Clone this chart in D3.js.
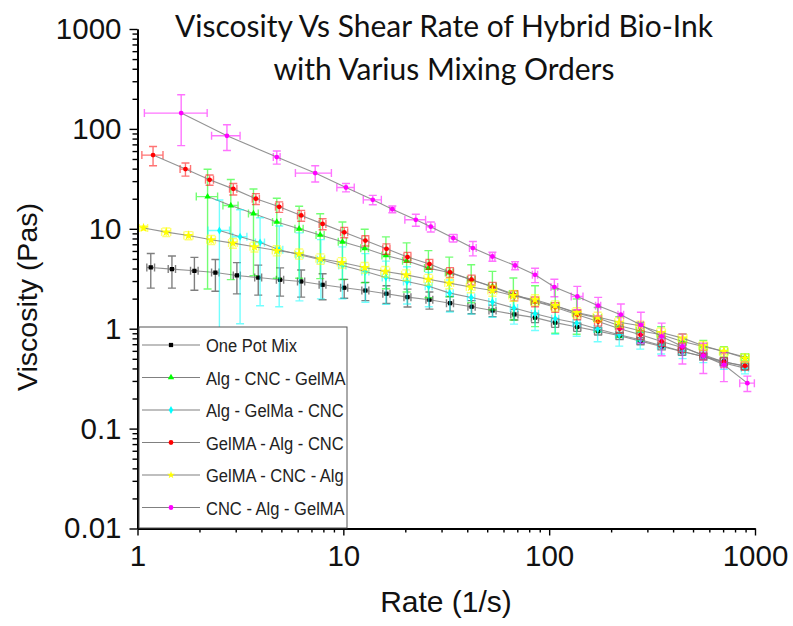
<!DOCTYPE html>
<html>
<head>
<meta charset="utf-8">
<script src="https://cdn.jsdelivr.net/npm/d3@7"></script>
<style>
  body { margin: 0; background: #fff; }
</style>
</head>
<body>
<div id="chart"></div>
<script>
// ---- data ----
var seriesNames = ["One Pot Mix", "Alg - CNC - GelMA", "Alg - GelMa - CNC",
                   "GelMA - Alg - CNC", "GelMA - CNC - Alg", "CNC - Alg - GelMA"];
var seriesColors = ["#000000", "#00ff00", "#00ffff", "#ff0000", "#ffff00", "#ff00ff"];

var onePotX = [1.16, 1.47, 1.89, 2.39, 3.04, 3.86, 4.93, 6.24, 7.93, 10.1, 12.8, 16.2, 20.5, 26.2, 33.0, 42.0, 53.1, 67.8, 85.4, 107, 137, 173, 220, 278, 352, 442, 561, 706, 894];
var onePotY = [4.10, 3.95, 3.80, 3.65, 3.41, 3.25, 3.09, 2.97, 2.75, 2.57, 2.41, 2.24, 2.07, 1.95, 1.80, 1.66, 1.52, 1.39, 1.29, 1.15, 1.04, 0.946, 0.849, 0.751, 0.664, 0.592, 0.527, 0.470, 0.418];
var onePotYErr = [1.55, 1.4, 1.37, 1.28, 1.18, 1.08, 0.97, 0.9, 0.8, 0.55, 0.5, 0.45, 0.42, 0.38, 0.3, 0.25, 0.2, 0.17, 0.14, 0.12, 0.1, 0.08, 0.07, 0.06, 0.05, 0.05, 0.04, 0.04, 0.03];
var onePotXErr = [0.05, 0.06, 0.08, 0.1, 0.12, 0.15, 0.2, 0.25, 0.3, 0.4, 0.5, 0.65, 0.8, 1.0, 1.3, 1.7, 2.1, 2.7, 3.4, 4.3, 5.5, 6.9, 8.8, 11, 14, 18, 22, 28, 36];

var algCncX = [2.19, 2.84, 3.66, 4.75, 6.10, 7.72, 9.90, 12.7, 16.1, 20.3, 25.9, 32.7, 41.8, 53.0, 67.0, 85.4, 107, 136, 172, 219, 277, 350, 445, 561, 706, 894];
var algCncY = [21.0, 17.1, 14.2, 11.7, 10.0, 8.67, 7.41, 6.38, 5.41, 4.78, 4.04, 3.65, 3.09, 2.65, 2.22, 1.87, 1.70, 1.43, 1.28, 1.07, 0.953, 0.869, 0.745, 0.664, 0.592, 0.520];
var algCncYErr = [18.5, 14, 10.8, 8.5, 6.8, 5.5, 4.3, 3.5, 2.9, 2.45, 2.0, 1.56, 1.27, 1.1, 1.0, 0.82, 0.8, 0.55, 0.35, 0.25, 0.2, 0.18, 0.14, 0.1, 0.07, 0.04];
var algCncXErr = [0.26, 0.24, 0.2, 0.22, 0.28, 0.35, 0.45, 0.55, 0.7, 0.9, 1.1, 1.4, 1.8, 2.3, 2.9, 3.7, 4.6, 5.8, 7.4, 9.4, 12, 15, 19, 24, 30, 38];

var algGelX = [2.50, 3.15, 3.94, 4.88, 6.12, 7.78, 9.90, 12.8, 16.1, 20.4, 26.0, 32.9, 41.8, 53.0, 67.5, 85.4, 107, 136, 172, 219, 277, 350, 445, 561, 706, 894];
var algGelY = [9.62, 8.32, 7.30, 6.16, 5.50, 4.89, 4.29, 3.74, 3.25, 2.97, 2.66, 2.27, 2.05, 1.85, 1.61, 1.41, 1.26, 1.14, 0.991, 0.869, 0.774, 0.679, 0.592, 0.527, 0.453, 0.403];
var algGelYErr = [9.8, 7.2, 5.6, 4.5, 3.6, 2.9, 2.3, 1.9, 1.5, 1.2, 1.0, 0.8, 0.65, 0.55, 0.5, 0.45, 0.38, 0.3, 0.25, 0.2, 0.15, 0.12, 0.09, 0.07, 0.06, 0.05];
var algGelXErr = [0.3, 0.25, 0.2, 0.2, 0.25, 0.3, 0.4, 0.5, 0.65, 0.8, 1.0, 1.3, 1.7, 2.1, 2.7, 3.4, 4.3, 5.4, 6.9, 8.8, 11, 14, 18, 22, 28, 36];

var gelAlgX = [1.19, 1.71, 2.24, 2.92, 3.76, 4.88, 6.24, 7.93, 10.1, 12.8, 16.2, 20.5, 26.2, 33.0, 42.0, 53.1, 67.8, 85.4, 107, 137, 173, 220, 278, 352, 442, 561, 706, 894];
var gelAlgY = [54.7, 39.6, 30.9, 25.1, 20.0, 16.6, 13.6, 11.2, 9.23, 7.62, 6.31, 5.21, 4.44, 3.67, 3.09, 2.61, 2.15, 1.87, 1.64, 1.38, 1.18, 1.00, 0.869, 0.745, 0.648, 0.548, 0.463, 0.425];
var gelAlgYErr = [12, 5.9, 3.6, 3.3, 2.5, 2.0, 1.7, 1.4, 1.1, 0.9, 0.75, 0.6, 0.5, 0.42, 0.35, 0.3, 0.25, 0.21, 0.18, 0.15, 0.12, 0.1, 0.09, 0.08, 0.07, 0.06, 0.05, 0.04];
var gelAlgXErr = [0.14, 0.1, 0.1, 0.12, 0.15, 0.2, 0.25, 0.3, 0.4, 0.5, 0.65, 0.8, 1.0, 1.3, 1.7, 2.1, 2.7, 3.4, 4.3, 5.5, 6.9, 8.8, 11, 14, 18, 22, 28, 36];

var gelCncX = [1.07, 1.38, 1.77, 2.28, 2.91, 3.70, 4.75, 6.10, 7.74, 9.83, 12.7, 16.0, 20.2, 25.9, 32.7, 41.6, 53.0, 67.0, 85.4, 107, 136, 172, 219, 277, 350, 445, 561, 706, 894];
var gelCncY = [10.2, 9.27, 8.57, 7.76, 7.19, 6.60, 6.06, 5.62, 5.01, 4.60, 4.10, 3.74, 3.46, 3.12, 2.86, 2.61, 2.41, 2.15, 1.95, 1.70, 1.45, 1.31, 1.16, 1.07, 0.916, 0.805, 0.675, 0.592, 0.508];
var gelCncYErr = [0.5, 0.9, 0.8, 0.8, 0.8, 0.75, 0.7, 0.65, 0.6, 0.55, 0.5, 0.45, 0.42, 0.38, 0.35, 0.32, 0.3, 0.27, 0.24, 0.2, 0.17, 0.15, 0.13, 0.12, 0.1, 0.08, 0.07, 0.06, 0.05];
var gelCncXErr = [0.05, 0.07, 0.09, 0.11, 0.14, 0.18, 0.23, 0.3, 0.38, 0.48, 0.6, 0.8, 1.0, 1.25, 1.6, 2.0, 2.6, 3.3, 4.2, 5.2, 6.7, 8.4, 10.7, 13.5, 17, 22, 27, 34, 44];

var cncAlgX = [1.63, 2.72, 4.75, 7.30, 10.3, 13.9, 17.3, 22.5, 26.6, 34.2, 42.6, 53.0, 68.3, 85.4, 106, 137, 173, 223, 279, 352, 444, 561, 706, 918];
var cncAlgY = [144, 85.3, 52.2, 36.1, 25.9, 19.5, 15.7, 12.3, 10.5, 8.07, 6.41, 5.28, 4.29, 3.46, 2.61, 2.10, 1.70, 1.38, 1.09, 0.836, 0.664, 0.536, 0.435, 0.285];
var cncAlgYErr = [76, 24.6, 7.8, 6.7, 2.5, 2.1, 1.2, 1.7, 1.2, 0.7, 1.05, 0.55, 0.4, 0.57, 0.52, 0.55, 0.36, 0.39, 0.37, 0.3, 0.22, 0.18, 0.14, 0.05];
var cncAlgXErr = [0.55, 0.43, 0.18, 1.45, 1.0, 1.4, 0.5, 2.6, 1.3, 1.5, 1.6, 1.5, 2.0, 2.5, 4, 9, 5, 7, 8, 10, 13, 16, 20, 75];

var xTicks = [1, 10, 100, 1000];
var yTicks = [0.01, 0.1, 1, 10, 100, 1000];

// ---- build series ----
var symbols = [d3.symbolSquare, d3.symbolTriangle, d3.symbolDiamond, d3.symbolCircle, d3.symbolStar, d3.symbolCircle];
var raw = [
  [onePotX, onePotY, onePotXErr, onePotYErr],
  [algCncX, algCncY, algCncXErr, algCncYErr],
  [algGelX, algGelY, algGelXErr, algGelYErr],
  [gelAlgX, gelAlgY, gelAlgXErr, gelAlgYErr],
  [gelCncX, gelCncY, gelCncXErr, gelCncYErr],
  [cncAlgX, cncAlgY, cncAlgXErr, cncAlgYErr]
];
var series = raw.map(function (r, i) {
  return {
    name: seriesNames[i],
    color: seriesColors[i],
    symbol: symbols[i],
    points: r[0].map(function (xv, j) {
      return { x: xv, y: r[1][j], xe: r[2][j], ye: r[3][j] };
    })
  };
});

// ---- chart ----
var width = 793, height = 626;
var svg = d3.select("#chart").append("svg")
  .attr("width", width)
  .attr("height", height)
  .style("font-family", "'Liberation Sans', Arial, sans-serif");

var x = d3.scaleLog().domain([1, 1000]).range([137.5, 755]);
var y = d3.scaleLog().domain([0.01, 1000]).range([528.5, 29]);

svg.append("clipPath").attr("id", "plotclip")
  .append("rect")
  .attr("x", x.range()[0]).attr("y", y.range()[1])
  .attr("width", x.range()[1] - x.range()[0] + 10)
  .attr("height", y.range()[0] - y.range()[1]);

var plot = svg.append("g").attr("clip-path", "url(#plotclip)");
var cap = 4;

series.forEach(function (s) {
  var g = plot.append("g");
  var eb = g.append("g")
    .attr("stroke", s.color)
    .attr("stroke-opacity", s.color === "#000000" ? 0.5 : 0.55)
    .attr("stroke-width", 1.4)
    .attr("fill", "none");

  s.points.forEach(function (p) {
    var cx = x(p.x), cy = y(p.y);
    var yTop = y(p.y + p.ye);
    var yBot = y(Math.max(p.y - p.ye, 1e-4));
    var xL = x(Math.max(p.x - p.xe, 0.01)), xR = x(p.x + p.xe);
    var path = d3.path();
    path.moveTo(cx, yTop); path.lineTo(cx, yBot);
    path.moveTo(cx - cap, yTop); path.lineTo(cx + cap, yTop);
    path.moveTo(cx - cap, yBot); path.lineTo(cx + cap, yBot);
    path.moveTo(xL, cy); path.lineTo(xR, cy);
    path.moveTo(xL, cy - cap); path.lineTo(xL, cy + cap);
    path.moveTo(xR, cy - cap); path.lineTo(xR, cy + cap);
    eb.append("path").attr("d", path.toString());
  });

  var line = d3.line()
    .x(function (d) { return x(d.x); })
    .y(function (d) { return y(d.y); });
  g.append("path")
    .datum(s.points)
    .attr("d", line)
    .attr("fill", "none")
    .attr("stroke", "#808080")
    .attr("stroke-opacity", 0.85)
    .attr("stroke-width", 1.1);

  g.selectAll(".pt")
    .data(s.points)
    .enter()
    .append("path")
    .attr("transform", function (d) { return "translate(" + x(d.x) + "," + y(d.y) + ")"; })
    .attr("d", d3.symbol().type(s.symbol).size(s.symbol === d3.symbolStar ? 30 : 18))
    .attr("fill", s.color);
});

// ---- axes ----
function minorTicks(scale) {
  return scale.ticks().filter(function (v) {
    return xTicks.concat(yTicks).indexOf(v) < 0;
  });
}

var xAxisG = svg.append("g").attr("transform", "translate(0," + y.range()[0] + ")");
xAxisG.append("g")
  .call(d3.axisBottom(x).tickValues(minorTicks(x)).tickSize(4).tickFormat("").tickSizeOuter(0));
xAxisG.append("g")
  .call(d3.axisBottom(x).tickValues(xTicks).tickSize(7).tickPadding(9.5)
    .tickFormat(d3.format("d")).tickSizeOuter(0));

var yAxisG = svg.append("g").attr("transform", "translate(" + x.range()[0] + ",0)");
yAxisG.append("g")
  .call(d3.axisLeft(y).tickValues(minorTicks(y)).tickSize(5).tickFormat("").tickSizeOuter(0));
yAxisG.append("g")
  .call(d3.axisLeft(y).tickValues(yTicks).tickSize(8).tickPadding(8)
    .tickFormat(function (d) { return d >= 1 ? d3.format("d")(d) : String(d); })
    .tickSizeOuter(0));

svg.selectAll(".domain").attr("stroke", "#000").attr("stroke-width", 1.8);
svg.selectAll(".tick line").attr("stroke", "#000").attr("stroke-width", 1.4);
svg.selectAll(".tick text")
  .attr("font-size", 29.5)
  .attr("font-family", "'Liberation Sans', Arial, sans-serif")
  .attr("fill", "#111");

// ---- legend ----
var legend = svg.append("g");
legend.append("rect")
  .attr("x", 139).attr("y", 327)
  .attr("width", 208).attr("height", 201)
  .attr("fill", "#fff")
  .attr("stroke", "#555")
  .attr("stroke-width", 1);

series.forEach(function (s, i) {
  var cy = 345 + i * 32.5;
  legend.append("line")
    .attr("x1", 142).attr("x2", 200)
    .attr("y1", cy).attr("y2", cy)
    .attr("stroke", "#808080")
    .attr("stroke-width", 1.1);
  legend.append("path")
    .attr("transform", "translate(171," + cy + ")")
    .attr("d", d3.symbol().type(s.symbol).size(18))
    .attr("fill", s.color);
  legend.append("text")
    .attr("transform", "translate(206," + (cy + 7) + ") scale(0.87,1)")
    .attr("font-size", 19)
    .attr("fill", "#222")
    .text(s.name);
});

// ---- titles ----
var title = svg.append("text")
  .attr("text-anchor", "middle")
  .attr("font-family", "Lato, 'Open Sans', sans-serif")
  .attr("font-size", 30)
  .attr("fill", "#111");
title.append("tspan").attr("x", 444).attr("y", 37).text("Viscosity Vs Shear Rate of Hybrid Bio-Ink");
title.append("tspan").attr("x", 444).attr("y", 80).text("with Varius Mixing Orders");

svg.append("text")
  .attr("x", 446).attr("y", 612)
  .attr("text-anchor", "middle")
  .attr("font-size", 30)
  .attr("fill", "#111")
  .text("Rate (1/s)");

svg.append("text")
  .attr("transform", "translate(37,297) rotate(-90)")
  .attr("text-anchor", "middle")
  .attr("font-size", 28.5)
  .attr("fill", "#111")
  .text("Viscosity (Pas)");
</script>
</body>
</html>
